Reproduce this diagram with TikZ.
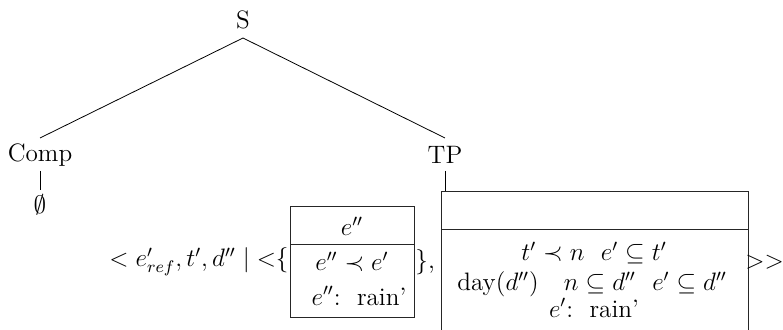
\documentclass[tikz,border=0pt]{standalone}
\begin{document}
\begin{tikzpicture}[x=0.5pt,y=-0.5pt,
  every node/.style={font=\fontsize{12}{14.5}\selectfont, inner sep=0pt, scale=1.05, transform shape},
  lbl/.style={inner sep=4pt},
  edge/.style={draw=black, line width=0.4pt},
  boxline/.style={draw=black!85, line width=0.5pt}]
\useasboundingbox (0,0) rectangle (783,330);
% tree nodes
\node[lbl] (S) at (243,20) {S};
\node[lbl] (comp) at (40,155) {Comp};
\node[lbl] (tp) at (445,155) {TP};
\node (empty) at (40,205) {$\emptyset$};
\coordinate (boxtop) at (445,192);
\coordinate (comptop) at (40,138);
\coordinate (tptop) at (445,138);
\coordinate (sbot) at (243,38);
\coordinate (compbot) at (40,171);
\coordinate (emptytop) at (40,190);
\coordinate (tpbot) at (445,171);
\draw[edge] (sbot) -- (comptop);
\draw[edge] (sbot) -- (tptop);
\draw[edge] (compbot) -- (emptytop);
\draw[edge] (tpbot) -- (boxtop);
% small box
\draw[boxline] (290,207) rectangle (414,318);
\draw[boxline] (290,245) -- (414,245);
\node (sb1) at (352,226) {$e''$};
\node (sb2) at (352,262) {$e''\prec e'$};
\node (sb3) at (359,296) {$e''$:\ \ rain'};
% big box
\draw[boxline] (441,335) -- (441,192) -- (748,192) -- (748,335);
\draw[boxline] (441,230) -- (748,230);
\node (bb1) at (594,253) {$t'\prec n\ \ e'\subseteq t'$};
\node (bb2) at (592,284) {$\mathrm{day}(d'')\quad n\subseteq d''\ \ e'\subseteq d''$};
\node (bb3) at (594,308) {$e'$:\ \ rain'};
% surrounding text
\node[anchor=east] (pre) at (289,262) {$<e'_{ref},t',d''\mid{<}\{$};
\node[anchor=west] (mid) at (415,262) {$\}$,};
\node[anchor=west] (post) at (745,262) {${>}{>}$};
\end{tikzpicture}
\end{document}
